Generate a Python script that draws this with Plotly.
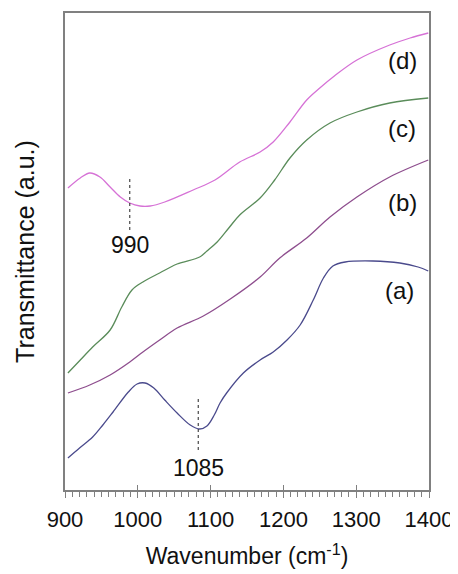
import plotly.graph_objects as go

# Wavenumber (cm-1) and transmittance (a.u.)
wn_a = [904, 920, 938, 952, 966, 987, 999, 1010, 1022, 1037, 1054, 1072, 1085, 1095, 1105, 1113, 1122, 1145, 1168, 1186, 1205, 1223, 1241, 1255, 1268, 1285, 1323, 1360, 1385, 1399]
t_a = [32, 42, 53, 65, 78, 98, 106, 107, 102, 90, 77, 65, 61, 64, 75, 87, 97, 117, 130, 138, 150, 165, 190, 212, 224, 228, 229, 227, 223, 219]

wn_b = [904, 934, 962, 989, 1007, 1030, 1054, 1090, 1127, 1168, 1195, 1232, 1264, 1301, 1346, 1399]
t_b = [97, 105, 115, 128, 138, 150, 162, 174, 191, 213, 232, 252, 273, 293, 313, 330]

wn_c = [904, 921, 938, 962, 978, 992, 1007, 1030, 1054, 1085, 1095, 1109, 1125, 1140, 1168, 1188, 1209, 1232, 1264, 1301, 1346, 1399]
t_c = [117, 130, 143, 160, 183, 200, 208, 217, 226, 233, 239, 248, 262, 275, 292, 310, 332, 350, 367, 378, 387, 392]

wn_d = [904, 921, 934, 948, 962, 976, 989, 1003, 1017, 1037, 1076, 1106, 1140, 1168, 1186, 1209, 1232, 1250, 1270, 1301, 1346, 1374, 1399]
t_d = [302, 312, 317, 313, 303, 293, 287, 284, 284, 288, 300, 310, 328, 338, 348, 368, 390, 402, 414, 430, 445, 452, 457]

series_names = ["(a)", "(b)", "(c)", "(d)"]
series_colors = ["#4a4a8c", "#8e4e8e", "#5a8c5a", "#d672d6"]

label_x = [1360, 1363, 1363, 1364]
label_y = [200, 288, 362, 430]

peak_pos = [989, 1083]
peak_text = ["990", "1085"]
peak_line_y0 = [260, 40]
peak_line_y1 = [313, 92]
peak_text_y = [245, 22]

xticks = [900, 1000, 1100, 1200, 1300, 1400]

fig = go.Figure()
for wn, t, c, n in zip([wn_a, wn_b, wn_c, wn_d], [t_a, t_b, t_c, t_d], series_colors, series_names):
    fig.add_trace(go.Scatter(x=wn, y=t, mode="lines", name=n,
                             line=dict(color=c, width=1.3, shape="spline", smoothing=1.0),
                             showlegend=False))

font_main = "Liberation Sans, Arial, sans-serif"
for n, x, y in zip(series_names, label_x, label_y):
    fig.add_annotation(x=x, y=y, text=n, showarrow=False,
                       font=dict(family=font_main, size=24, color="#111"))

for p, txt, y0, y1, ty in zip(peak_pos, peak_text, peak_line_y0, peak_line_y1, peak_text_y):
    fig.add_shape(type="line", x0=p, x1=p, y0=y0, y1=y1, xref="x", yref="y",
                  line=dict(color="#222", width=1, dash="dot"))
    fig.add_annotation(x=p, y=ty, text=txt, showarrow=False,
                       font=dict(family=font_main, size=23, color="#111"))

fig.update_layout(
    width=450, height=566,
    margin=dict(l=57, r=29, t=5, b=84),
    plot_bgcolor="white", paper_bgcolor="white",
    font=dict(family=font_main, size=22, color="#111"),
    xaxis=dict(range=[900, 1400], tickvals=xticks, ticks="outside", ticklen=6,
               tickcolor="#808080", showline=True, linecolor="#808080", linewidth=1.5,
               mirror=True, showgrid=False, zeroline=False, automargin=False,
               ticklabelstandoff=3,
               minor=dict(dtick=10, ticks="outside", ticklen=5, tickcolor="#808080"),
               title=dict(text="Wavenumber (cm<sup>-1</sup>)", standoff=17,
                          font=dict(size=23)),
               tickfont=dict(size=22)),
    xaxis2=dict(range=[900, 1400], overlaying="x", side="bottom", tickvals=xticks,
                ticks="inside", ticklen=5, tickcolor="#808080", showticklabels=False,
                showgrid=False, zeroline=False, showline=False),
    yaxis=dict(range=[0, 477], showticklabels=False, ticks="", showline=True,
               linecolor="#808080", linewidth=1.5, mirror=True, showgrid=False,
               zeroline=False, automargin=False,
               title=dict(text="Transmittance (a.u.)", standoff=22, font=dict(size=25))),
)
fig.add_trace(go.Scatter(x=[900], y=[0], xaxis="x2", mode="markers",
                         marker=dict(opacity=0), showlegend=False, hoverinfo="skip"))

fig.write_html("out.html")
